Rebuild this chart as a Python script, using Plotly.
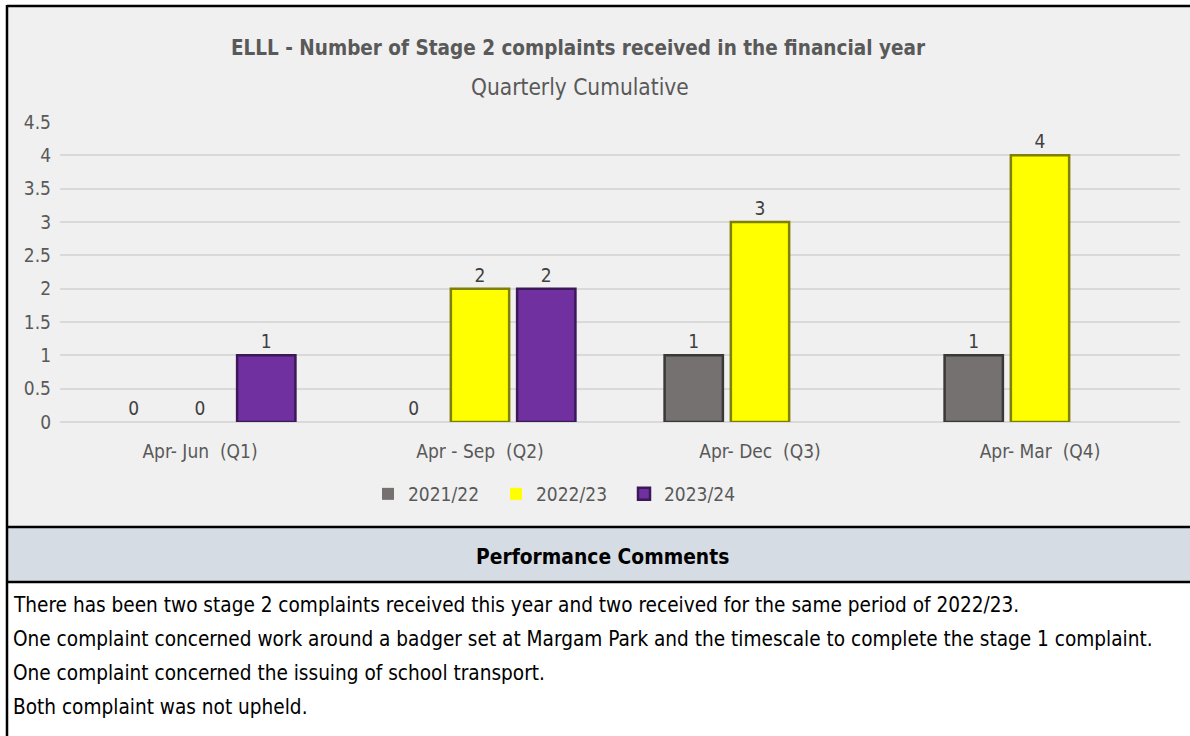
import plotly.graph_objects as go

# chart data
quarters = ["Apr-\u00a0Jun\u00a0\u00a0(Q1)", "Apr\u00a0-\u00a0Sep\u00a0\u00a0(Q2)",
            "Apr-\u00a0Dec\u00a0\u00a0(Q3)", "Apr-\u00a0Mar\u00a0\u00a0(Q4)"]
years = ["2021/22", "2022/23", "2023/24"]
y2122 = [0, 0, 1, 1]
y2223 = [0, 2, 3, 4]
y2324 = [1, 2, None, None]

comments = [
    "There has been two stage 2 complaints received this year and two received for the same period of 2022/23.",
    "One complaint concerned work around a badger set at Margam Park and the timescale to complete the stage 1 complaint.",
    "One complaint concerned the issuing of school transport.",
    "Both complaint was not upheld.",
]

W, H = 1190, 736
L, R, T, B = 60, 1180, 122, 422
FONT = "Liberation Sans Narrow, DejaVu Sans Condensed, Liberation Sans, sans-serif"


def px(x):
    return (x - L) / (R - L)


def py(y):
    return (B - y) / (B - T)


fills = ["#767171", "#ffff00", "#7030a0"]
edges = ["#3b3838", "#7f7f00", "#3c1858"]

fig = go.Figure()
for name, vals, fc, ec in zip(years, [y2122, y2223, y2324], fills, edges):
    fig.add_trace(go.Bar(
        name=name, x=quarters, y=vals,
        marker=dict(color=fc, line=dict(color=ec, width=[0 if not v else 2.5 for v in vals])),
        text=[("" if v is None else str(v)) for v in vals],
        textposition="outside",
        textfont=dict(family=FONT, size=19, color="#404040"),
        cliponaxis=False,
    ))

shapes = [
    dict(type="rect", xref="paper", yref="paper", x0=px(7), x1=px(W + 5), y0=py(527), y1=py(6),
         fillcolor="#f0f0f0", line_width=0, layer="below"),
    dict(type="rect", xref="paper", yref="paper", x0=px(7), x1=px(W + 5), y0=py(582), y1=py(527),
         fillcolor="#d6dce4", line_width=0, layer="below"),
    dict(type="line", xref="paper", yref="paper", x0=px(7), x1=px(W + 5), y0=py(6), y1=py(6),
         line=dict(color="black", width=2.5)),
    dict(type="line", xref="paper", yref="paper", x0=px(7), x1=px(W + 5), y0=py(527), y1=py(527),
         line=dict(color="black", width=2.5)),
    dict(type="line", xref="paper", yref="paper", x0=px(7), x1=px(W + 5), y0=py(582), y1=py(582),
         line=dict(color="black", width=2.5)),
    dict(type="line", xref="paper", yref="paper", x0=px(7), x1=px(7), y0=py(5), y1=py(H + 5),
         line=dict(color="black", width=2.5)),
]

annots = [
    dict(text="<b>ELLL - Number of Stage 2 complaints received in the financial year</b>",
         x=px(578), y=py(48), font=dict(size=20.5, color="#595959")),
    dict(text="Quarterly Cumulative", x=px(580), y=py(87), font=dict(size=22.5, color="#595959")),
    dict(text="<b>Performance Comments</b>", x=px(602), y=py(557), font=dict(size=20.8, color="black")),
]
for i, line in enumerate(comments):
    annots.append(dict(text=line, x=px(11), y=py(605 + 34 * i), xanchor="left",
                       font=dict(size=20.6, color="black")))
for a in annots:
    a.update(xref="paper", yref="paper", showarrow=False, yanchor="middle")
    a.setdefault("xanchor", "center")
    a["font"]["family"] = FONT

fig.update_layout(
    width=W, height=H,
    margin=dict(l=L, r=W - R, t=T, b=H - B),
    paper_bgcolor="white", plot_bgcolor="rgba(0,0,0,0)",
    barmode="group", bargap=0.29, bargroupgap=0.12,
    font=dict(family=FONT, color="#595959", size=18),
    shapes=shapes, annotations=annots,
    legend=dict(orientation="h", x=px(560), xanchor="center", y=py(494), yanchor="middle",
                font=dict(size=19, color="#595959"), entrywidth=83, entrywidthmode="pixels",
                bgcolor="rgba(0,0,0,0)"),
)
fig.update_xaxes(showgrid=False, showline=False, ticks="outside", ticklen=12, tickcolor="rgba(0,0,0,0)",
                 tickfont=dict(size=19, color="#595959"))
fig.update_yaxes(range=[0, 4.5], dtick=0.5, gridcolor="#d9d9d9", gridwidth=1.5, zeroline=True,
                 zerolinecolor="#d9d9d9", zerolinewidth=1.5, showline=False,
                 tickfont=dict(size=19, color="#595959"), ticklabelstandoff=8)

fig.write_html("out.html", config={"displayModeBar": False},
               post_script="document.body.style.margin='0';document.body.style.overflow='hidden';")
